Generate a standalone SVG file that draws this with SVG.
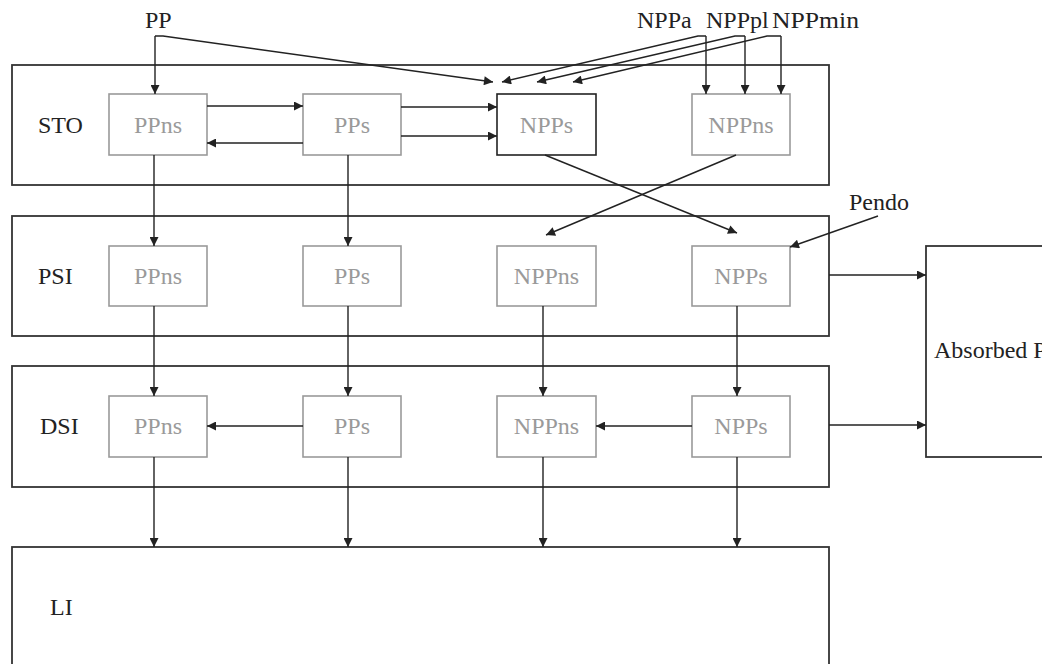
<svg xmlns="http://www.w3.org/2000/svg" width="1042" height="664" viewBox="0 0 1042 664">
<defs>
<marker id="ah" viewBox="0 0 10 10" refX="10" refY="5" markerWidth="10" markerHeight="9" markerUnits="userSpaceOnUse" orient="auto">
<path d="M0,0 L10,5 L0,10 z" fill="#222"/>
</marker>
<style>
.bg{fill:#fff}
.box{fill:none;stroke:#333;stroke-width:1.8}
.node{fill:#fff;stroke:#9a9a9a;stroke-width:1.6}
.nodek{fill:#fff;stroke:#222;stroke-width:1.6}
.nt{font-family:"Liberation Serif","Times New Roman",serif;font-size:24px;fill:#9a9a9a;text-anchor:middle}
.lt{font-family:"Liberation Serif","Times New Roman",serif;font-size:24px;fill:#222}
.c{fill:none;stroke:#222;stroke-width:1.4}
.a{marker-end:url(#ah)}
</style>
</defs>
<rect class="bg" x="0" y="0" width="1042" height="664"/>

<g id="STO">
<rect class="box" x="12" y="65" width="817" height="120"/>
<text class="lt" x="38" y="133">STO</text>
</g>
<g id="PSI">
<rect class="box" x="12" y="216" width="817" height="120"/>
<text class="lt" x="38" y="284">PSI</text>
</g>
<g id="DSI">
<rect class="box" x="12" y="366" width="817" height="121"/>
<text class="lt" x="40" y="434">DSI</text>
</g>
<g id="LI">
<rect class="box" x="12" y="547" width="817" height="130"/>
<text class="lt" x="50" y="615">LI</text>
</g>
<g id="Absorbed">
<rect class="box" x="926" y="246" width="130" height="211"/>
<text class="lt" x="934" y="358">Absorbed P</text>
</g>

<g id="STO_PPns"><rect class="node" x="109" y="94" width="98" height="61"/><text class="nt" x="158" y="133">PPns</text></g>
<g id="STO_PPs"><rect class="node" x="303" y="94" width="98" height="61"/><text class="nt" x="352" y="133">PPs</text></g>
<g id="STO_NPPs"><rect class="nodek" x="497" y="94" width="99" height="61"/><text class="nt" x="546.5" y="133">NPPs</text></g>
<g id="STO_NPPns"><rect class="node" x="692" y="94" width="98" height="61"/><text class="nt" x="741" y="133">NPPns</text></g>

<g id="PSI_PPns"><rect class="node" x="109" y="246" width="98" height="60"/><text class="nt" x="158" y="284">PPns</text></g>
<g id="PSI_PPs"><rect class="node" x="303" y="246" width="98" height="60"/><text class="nt" x="352" y="284">PPs</text></g>
<g id="PSI_NPPns"><rect class="node" x="497" y="246" width="99" height="60"/><text class="nt" x="546.5" y="284">NPPns</text></g>
<g id="PSI_NPPs"><rect class="node" x="692" y="246" width="98" height="60"/><text class="nt" x="741" y="284">NPPs</text></g>

<g id="DSI_PPns"><rect class="node" x="109" y="396" width="98" height="61"/><text class="nt" x="158" y="434">PPns</text></g>
<g id="DSI_PPs"><rect class="node" x="303" y="396" width="98" height="61"/><text class="nt" x="352" y="434">PPs</text></g>
<g id="DSI_NPPns"><rect class="node" x="497" y="396" width="99" height="61"/><text class="nt" x="546.5" y="434">NPPns</text></g>
<g id="DSI_NPPs"><rect class="node" x="692" y="396" width="98" height="61"/><text class="nt" x="741" y="434">NPPs</text></g>

<g id="labels">
<text class="lt" x="145" y="28">PP</text>
<text class="lt" x="637" y="28">NPPa</text>
<text class="lt" x="706" y="28">NPPpl</text>
<text class="lt" x="772" y="28" textLength="87" lengthAdjust="spacingAndGlyphs">NPPmin</text>
<text class="lt" x="849" y="210">Pendo</text>
</g>

<g id="connectors">
<path class="c a" d="M155,36 L155,94"/>
<path class="c a" d="M155,36 L163,36 L493,82"/>
<path class="c a" d="M706,36 L706,94"/>
<path class="c a" d="M706,36 L698,36 L502,82"/>
<path class="c a" d="M745,36 L745,94"/>
<path class="c a" d="M745,36 L735,36 L537,82"/>
<path class="c a" d="M781,36 L781,94"/>
<path class="c a" d="M781,36 L767,36 L573,82"/>

<path class="c a" d="M207,106 L303,106"/>
<path class="c a" d="M303,143 L207,143"/>
<path class="c a" d="M401,107 L497,107"/>
<path class="c a" d="M401,136 L497,136"/>

<path class="c a" d="M154,155 L154,246"/>
<path class="c a" d="M348,155 L348,246"/>
<path class="c a" d="M545,155 L737,233"/>
<path class="c a" d="M736,155 L546,235"/>
<path class="c a" d="M878,216 L790,247"/>

<path class="c a" d="M154,306 L154,396"/>
<path class="c a" d="M348,306 L348,396"/>
<path class="c a" d="M543,306 L543,396"/>
<path class="c a" d="M737,306 L737,396"/>

<path class="c a" d="M303,426 L207,426"/>
<path class="c a" d="M692,426 L596,426"/>

<path class="c a" d="M154,457 L154,547"/>
<path class="c a" d="M348,457 L348,547"/>
<path class="c a" d="M543,457 L543,547"/>
<path class="c a" d="M737,457 L737,547"/>

<path class="c a" d="M829,275 L926,275"/>
<path class="c a" d="M829,425 L926,425"/>
</g>
</svg>
